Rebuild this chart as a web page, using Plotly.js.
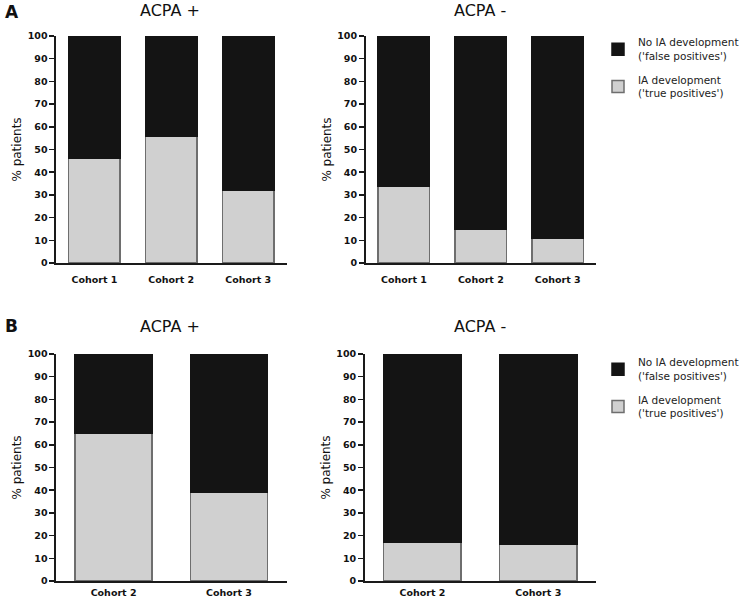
<!DOCTYPE html>
<html><head><meta charset="utf-8">
<script src="https://cdn.plot.ly/plotly-3.0.1.min.js"></script>
<style>body{margin:0;background:#fff}#c{width:744px;height:600px}</style>
</head><body><div id="c"></div>
<script>
const cohortsA = ['Cohort 1', 'Cohort 2', 'Cohort 3'];
const cohortsB = ['Cohort 2', 'Cohort 3'];
const truePosA_pos = [46, 56, 32];
const falsePosA_pos = [54, 44, 68];
const truePosA_neg = [34, 15, 11];
const falsePosA_neg = [66, 85, 89];
const truePosB_pos = [65, 39];
const falsePosB_pos = [35, 61];
const truePosB_neg = [17, 16];
const falsePosB_neg = [83, 84];
const yTicks = [0,10,20,30,40,50,60,70,80,90,100];
const nameFalse = "No IA development<br>('false positives')";
const nameTrue = "IA development<br>('true positives')";

const W = 744, H = 600;
const light = '#d0d0d0', dark = '#141414';
function tr(x, y, xa, ya, name, color, lineColor, show, leg, grp, rank) {
  return {type:'bar', x:x, y:y, xaxis:xa, yaxis:ya, name:name, showlegend:show, legend:leg, legendgroup:grp,
    legendrank:rank, marker:{color:color, line:{color:lineColor, width:1.5}}, hoverinfo:'skip'};
}
const data = [
  tr(cohortsA, truePosA_pos, 'x', 'y', nameTrue, light, '#6e6e6e', true, 'legend', 't', 2),
  tr(cohortsA, falsePosA_pos, 'x', 'y', nameFalse, dark, dark, true, 'legend', 'f', 1),
  tr(cohortsA, truePosA_neg, 'x2', 'y2', nameTrue, light, '#6e6e6e', false, 'legend', 't', 2),
  tr(cohortsA, falsePosA_neg, 'x2', 'y2', nameFalse, dark, dark, false, 'legend', 'f', 1),
  tr(cohortsB, truePosB_pos, 'x3', 'y3', nameTrue, light, '#6e6e6e', true, 'legend2', 't2', 2),
  tr(cohortsB, falsePosB_pos, 'x3', 'y3', nameFalse, dark, dark, true, 'legend2', 'f2', 1),
  tr(cohortsB, truePosB_neg, 'x4', 'y4', nameTrue, light, '#6e6e6e', false, 'legend2', 't2', 2),
  tr(cohortsB, falsePosB_neg, 'x4', 'y4', nameFalse, dark, dark, false, 'legend2', 'f2', 1)
];
function xax(x0, x1, anchor, standoff) {
  return {domain:[x0/W, x1/W], anchor:anchor, showline:true, linecolor:'#1a1a1a', linewidth:1.5,
    ticks:'', showgrid:false, zeroline:false, fixedrange:true, ticklabelstandoff:standoff,
    tickfont:{family:'DejaVu Sans', size:9.5, color:'#111', weight:'bold'}};
}
function yax(top, bottom, anchor) {
  return {domain:[1-bottom/H, 1-top/H], anchor:anchor, range:[0,100], showline:true, linecolor:'#1a1a1a', linewidth:1.5,
    ticks:'outside', ticklen:5, tickwidth:1.5, tickcolor:'#1a1a1a', tickvals:yTicks, showgrid:false, zeroline:false,
    fixedrange:true, tickfont:{family:'DejaVu Sans', size:9.5, color:'#111', weight:'bold'},
    title:{text:'% patients', font:{family:'DejaVu Sans', size:12, color:'#111'}, standoff:3}};
}
const legBase = {orientation:'v', xanchor:'left', yanchor:'top', bgcolor:'rgba(0,0,0,0)', tracegroupgap:7,
  font:{family:'DejaVu Sans', size:10.5, color:'#222'}, traceorder:'grouped', itemclick:false};
const layout = {
  width:W, height:H, margin:{l:0, r:0, t:0, b:0}, paper_bgcolor:'#fff', plot_bgcolor:'#fff',
  barmode:'stack', bargap:0.33,
  font:{family:'DejaVu Sans', color:'#222'},
  xaxis: xax(56, 287, 'y', 7), yaxis: yax(36, 263, 'x'),
  xaxis2: xax(366, 597, 'y2', 7), yaxis2: yax(36, 263, 'x2'),
  xaxis3: xax(56, 287, 'y3', 2), yaxis3: yax(354, 581, 'x3'),
  xaxis4: xax(365, 597, 'y4', 2), yaxis4: yax(354, 581, 'x4'),
  legend: Object.assign({x:599/W, y:1-29/H}, legBase),
  legend2: Object.assign({x:599/W, y:1-349/H}, legBase),
  annotations: [
    {text:'<b>A</b>', x:3/W, y:1-12/H, xref:'paper', yref:'paper', xanchor:'left', yanchor:'middle', showarrow:false, font:{size:17, family:'DejaVu Sans', color:'#111'}},
    {text:'<b>B</b>', x:3/W, y:1-326/H, xref:'paper', yref:'paper', xanchor:'left', yanchor:'middle', showarrow:false, font:{size:17, family:'DejaVu Sans', color:'#111'}},
    {text:'ACPA +', x:170/W, y:1-11/H, xref:'paper', yref:'paper', xanchor:'center', yanchor:'middle', showarrow:false, font:{size:16, family:'DejaVu Sans', color:'#111'}},
    {text:'ACPA -', x:481/W, y:1-11/H, xref:'paper', yref:'paper', xanchor:'center', yanchor:'middle', showarrow:false, font:{size:16, family:'DejaVu Sans', color:'#111'}},
    {text:'ACPA +', x:170/W, y:1-326/H, xref:'paper', yref:'paper', xanchor:'center', yanchor:'middle', showarrow:false, font:{size:16, family:'DejaVu Sans', color:'#111'}},
    {text:'ACPA -', x:481/W, y:1-326/H, xref:'paper', yref:'paper', xanchor:'center', yanchor:'middle', showarrow:false, font:{size:16, family:'DejaVu Sans', color:'#111'}}
  ]
};
Plotly.newPlot('c', data, layout, {displayModeBar:false, staticPlot:true});
</script></body></html>
